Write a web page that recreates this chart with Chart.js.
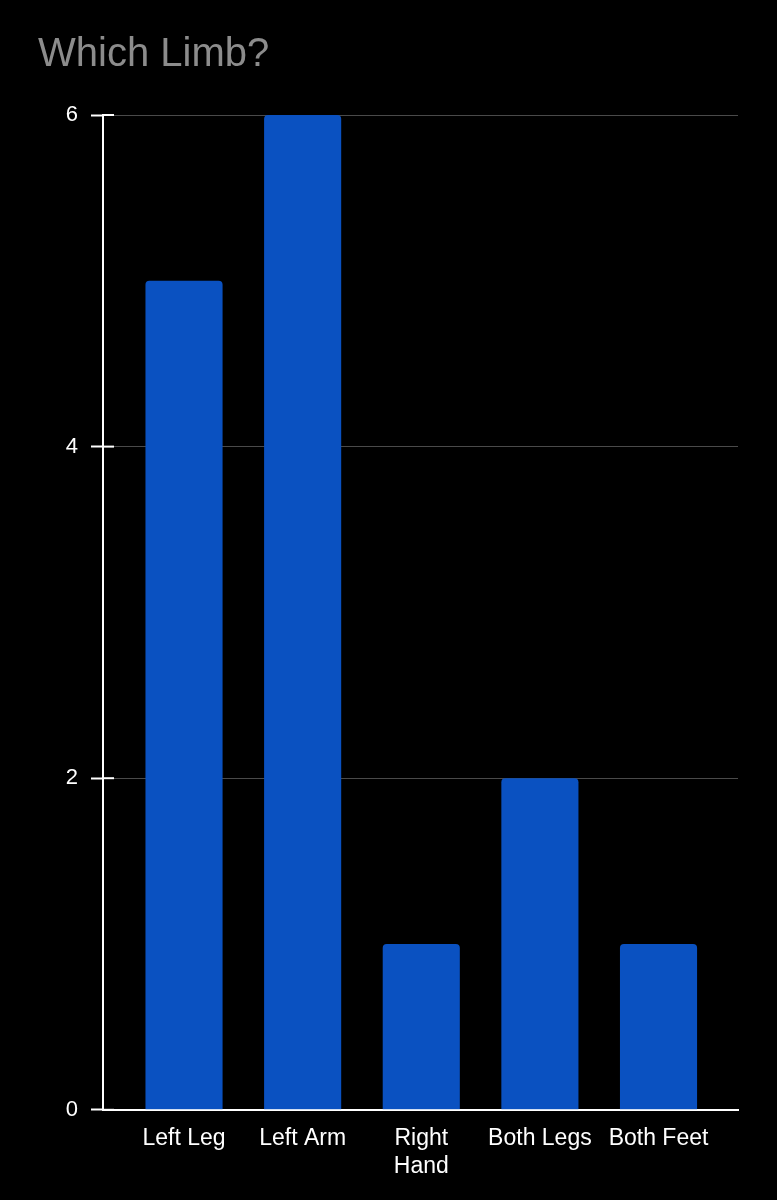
<!DOCTYPE html>
<html>
<head>
<meta charset="utf-8">
<title>Which Limb?</title>
<script src="https://cdn.jsdelivr.net/npm/chart.js@4.4.1/dist/chart.umd.min.js"></script>
<style>
    html, body { margin: 0; padding: 0; background: #000; }
    #wrap { width: 777px; height: 1200px; position: relative; }
</style>
</head>
<body>
<div id="wrap"><canvas id="limbChart"></canvas></div>
<script>
const limbs = ["Left Leg", "Left Arm", ["Right", "Hand"], "Both Legs", "Both Feet"];
const counts = [5, 6, 1, 2, 1];
const yTicks = [0, 2, 4, 6];

const fontFamily = "'Liberation Sans', Arial, sans-serif";

// white tick marks also poke into the plot a little, like the original
const innerTicks = {
    id: "innerTicks",
    afterDraw(chart) {
        const { ctx, chartArea, scales } = chart;
        ctx.save();
        ctx.strokeStyle = "#ffffff";
        ctx.lineWidth = 2;
        yTicks.forEach((t) => {
            const y = scales.y.getPixelForValue(t);
            ctx.beginPath();
            ctx.moveTo(chartArea.left, y);
            ctx.lineTo(chartArea.left + 11, y);
            ctx.stroke();
        });
        ctx.restore();
    },
};

var myChart = new Chart(document.getElementById("limbChart"), {
    type: "bar",
    data: {
        datasets: [
            {
                label: "Which Limb?",
                data: counts.map((c, i) => ({ x: i, y: c })),
                backgroundColor: "#0a51c1",
                borderRadius: { topLeft: 4, topRight: 4 },
                borderSkipped: "bottom",
                categoryPercentage: 1,
                barPercentage: 0.65,
            },
        ],
    },
    options: {
        responsive: true,
        maintainAspectRatio: false,
        animation: false,
        layout: { padding: { left: 38, right: 39, top: 0, bottom: 5 } },
        plugins: {
            legend: { display: false },
            tooltip: { enabled: false },
            title: {
                display: true,
                text: "Which Limb?",
                align: "start",
                color: "#8c8c8c",
                font: { family: fontFamily, size: 40, weight: "normal" },
                padding: { top: 31, bottom: 36 },
            },
        },
        scales: {
            x: {
                type: "linear",
                offset: false,
                min: -0.683,
                max: 4.67,
                grid: { display: false, drawTicks: false },
                border: { display: true, color: "#ffffff", width: 2 },
                ticks: {
                    stepSize: 1,
                    includeBounds: false,
                    autoSkip: false,
                    maxRotation: 0,
                    padding: 15,
                    color: "#ffffff",
                    font: { family: fontFamily, size: 23 },
                    callback: (v) => (Number.isInteger(v) ? limbs[v] : ""),
                },
            },
            y: {
                min: 0,
                max: 6,
                afterFit: (scale) => {
                    scale.width = 65;
                },
                grid: {
                    color: "#4a4a4a",
                    lineWidth: 1,
                    tickColor: "#ffffff",
                    tickWidth: 2,
                    tickLength: 12,
                },
                border: { display: true, color: "#ffffff", width: 2 },
                ticks: {
                    stepSize: 2,
                    padding: 13,
                    color: "#ffffff",
                    font: { family: fontFamily, size: 22 },
                },
            },
        },
    },
    plugins: [innerTicks],
});
</script>
</body>
</html>
